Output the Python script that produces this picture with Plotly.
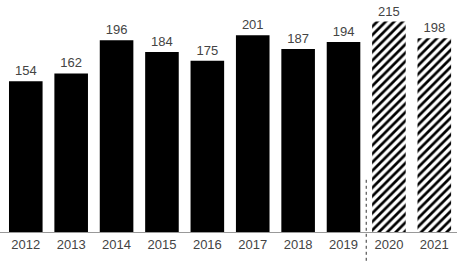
import plotly.graph_objects as go

years = ["2012", "2013", "2014", "2015", "2016", "2017", "2018", "2019", "2020", "2021"]
actual_values = [154, 162, 196, 184, 175, 201, 187, 194]
forecast_values = [215, 198]

actual_years = years[:8]
forecast_years = years[8:]

FONT = "Liberation Sans, Arial"

fig = go.Figure()
fig.add_trace(go.Bar(
    x=actual_years, y=actual_values,
    marker=dict(color="#000000", line=dict(width=0)),
    text=[str(v) for v in actual_values], textposition="outside",
    textfont=dict(family=FONT, size=13, color="#444444"),
    width=0.74, cliponaxis=False,
))
fig.add_trace(go.Bar(
    x=forecast_years, y=forecast_values,
    marker=dict(color="#ffffff", line=dict(width=0),
                pattern=dict(shape="/", fgcolor="#000000", bgcolor="#ffffff",
                             fgopacity=1, size=6, solidity=0.45, fillmode="replace")),
    text=[str(v) for v in forecast_values], textposition="outside",
    textfont=dict(family=FONT, size=13, color="#444444"),
    width=0.74, cliponaxis=False,
))

fig.add_shape(type="line", xref="x", yref="paper", x0=7.5, x1=7.5, y0=-0.15, y1=0.23,
              line=dict(color="#333333", width=1, dash="3px,3px"))

fig.update_layout(
    width=461, height=261,
    margin=dict(l=0, r=4, t=0, b=29),
    paper_bgcolor="white", plot_bgcolor="white",
    showlegend=False, barmode="overlay",
    xaxis=dict(type="category", categoryorder="array", categoryarray=years,
               range=[-0.568, 9.5], showline=True, linecolor="#999999", linewidth=1,
               ticks="", showgrid=False,
               tickfont=dict(family=FONT, size=13, color="#444444")),
    yaxis=dict(range=[0, 237], visible=False, showgrid=False, zeroline=False),
)

fig.write_html("out.html")
